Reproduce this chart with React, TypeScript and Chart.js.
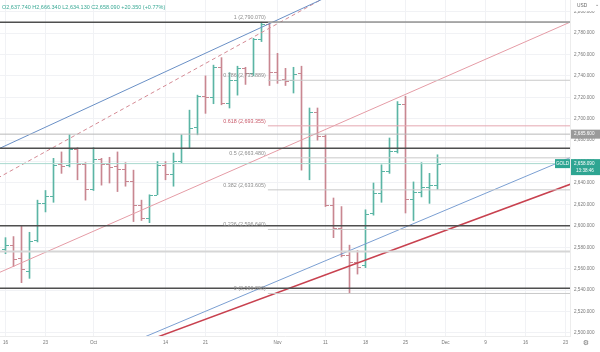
import React, { useEffect, useRef } from "react";
import { Chart, registerables } from "chart.js";

Chart.register(...registerables);

// Daily OHLC bars, trading days 16 Sep .. 29 Nov (index 0..54)
const opens = [
  2578, 2582, 2570, 2558, 2587, 2621, 2628, 2658, 2657, 2672,
  2658, 2634, 2662, 2658, 2656, 2653, 2642, 2619, 2607, 2629,
  2657, 2648, 2661, 2673, 2692, 2721, 2720, 2748, 2715, 2736,
  2747, 2743, 2774, 2788, 2744, 2737, 2736, 2743, 2659, 2706,
  2684, 2619, 2598, 2573, 2566, 2563, 2612, 2631, 2651, 2670,
  2714, 2625, 2632, 2636, 2637.74,
];
const highs = [
  2589, 2590, 2600, 2594, 2624, 2633, 2663, 2669, 2685, 2673,
  2659, 2673, 2663, 2664, 2669, 2659, 2652, 2624, 2629, 2660,
  2660, 2668, 2685, 2708, 2722, 2740, 2750, 2757, 2743, 2749,
  2748, 2775, 2790.07, 2790, 2761, 2747, 2748, 2749, 2710, 2710,
  2685, 2626, 2618, 2582, 2577, 2615, 2640, 2657, 2682, 2716,
  2721, 2641, 2659, 2649, 2666.34,
];
const lows = [
  2574, 2562, 2547, 2551, 2585, 2613, 2622, 2649, 2655, 2643,
  2624, 2633, 2638, 2640, 2632, 2637, 2604, 2605, 2603, 2629,
  2643, 2637, 2659, 2673, 2685, 2705, 2714, 2713, 2710, 2722,
  2732, 2740, 2772, 2731, 2733, 2731, 2724, 2652, 2643, 2680,
  2618, 2589, 2571, 2536.89, 2555, 2561, 2610, 2622, 2649, 2668,
  2612, 2605, 2627, 2621, 2634.13,
];
const closes = [
  2582, 2569, 2560, 2586, 2621, 2628, 2657, 2656, 2672, 2658,
  2634, 2662, 2658, 2655, 2653, 2642, 2619, 2607, 2629, 2657,
  2648, 2661, 2673, 2691, 2721, 2720, 2748, 2715, 2736, 2747,
  2743, 2774, 2788, 2744, 2736, 2735, 2742, 2659, 2706, 2684,
  2619, 2598, 2573, 2566, 2562, 2611, 2631, 2651, 2670, 2714,
  2625, 2632, 2636, 2638, 2658.09,
];

const xTickIndex = [0, 5, 11, 20, 25, 34, 40, 45, 50, 55, 60, 65, 70];
const xTickLabels = ["16", "23", "Oct", "14", "21", "Nov", "11", "18", "25", "Dec", "9", "16", "23"];
const yTickValues = [
  2500, 2520, 2540, 2560, 2580, 2600, 2620, 2640, 2660, 2680, 2700, 2720, 2740, 2760, 2780, 2800,
];

const X_MIN = -0.6875;
const X_MAX = 70.5625;
const Y_MIN = 2497.2;
const Y_MAX = 2810.8;

const darkLevels = [2790.07, 2672.5, 2600, 2541.7];
const grayLevel = 2685.6;
const paleLevel = 2576;
const lastPrice = 2658.09;

const fibRatios = ["1", "0.786", "0.618", "0.5", "0.382", "0.236", "0"];
const fibValues = [2790.07, 2735.889, 2693.355, 2663.48, 2633.605, 2596.64, 2536.89];
const fibStartIndex = 32.8;

const blueUpper = [[-1, 2671.4], [45, 2830.2]];
const redDashed = [[-1, 2644.5], [40, 2813.4]];
const pinkChannel = [[-1, 2555.7], [71, 2791.5]];
const blueLower = [[17, 2495.1], [71, 2665.0]];
const redTrend = [[18, 2493.5], [71, 2639.9]];

const headerText = "O2,637.740 H2,666.340 L2,634.130 C2,658.090 +20.350 (+0.77%)";
const symbolText = "GOLD";
const countdownText = "13:38:46";
const currencyText = "USD";

const UP = "#5bb5a5";
const DOWN = "#c98791";
const TEAL = "#2ea592";
const FONT = "'Liberation Sans', Arial, sans-serif";

const fmt = (v: number) =>
  v.toLocaleString("en-US", { minimumFractionDigits: 3, maximumFractionDigits: 3 });

function seg(pts: number[][], color: string, width: number, dash: number[] = []) {
  return {
    type: "line" as const,
    data: pts.map((p) => ({ x: p[0], y: p[1] })),
    borderColor: color,
    borderWidth: width,
    borderDash: dash,
    pointRadius: 0,
    fill: false,
    order: 1,
  };
}

const ohlcTicks = {
  id: "ohlcTicks",
  beforeDatasetsDraw(chart: any) {
    const { ctx, chartArea, scales } = chart;
    const x = scales.x;
    const y = scales.y;
    ctx.save();
    ctx.beginPath();
    ctx.rect(chartArea.left, chartArea.top, chartArea.width, chartArea.height);
    ctx.clip();
    ctx.lineWidth = 1;
    for (let i = 0; i < opens.length; i++) {
      const wl = Math.floor(x.getPixelForValue(i));
      ctx.strokeStyle = closes[i] >= opens[i] ? UP : DOWN;
      const yo = Math.round(y.getPixelForValue(opens[i])) + 0.5;
      const yc = Math.round(y.getPixelForValue(closes[i])) + 0.5;
      ctx.beginPath();
      ctx.moveTo(wl - 3, yo);
      ctx.lineTo(wl, yo);
      ctx.moveTo(wl + 1, yc);
      ctx.lineTo(wl + 4, yc);
      ctx.stroke();
    }
    ctx.restore();
  },
};

const overlay = {
  id: "overlay",
  afterDraw(chart: any) {
    const { ctx, chartArea, scales, width } = chart;
    const x = scales.x;
    const y = scales.y;
    ctx.save();

    // fib labels
    ctx.font = `5.4px ${FONT}`;
    ctx.textAlign = "right";
    ctx.textBaseline = "bottom";
    const fx = x.getPixelForValue(fibStartIndex) - 2;
    fibValues.forEach((v, i) => {
      ctx.fillStyle = fibRatios[i] === "0.618" ? "#c95a6a" : "#8d8d8d";
      ctx.fillText(`${fibRatios[i]} (${fmt(v)})`, fx, y.getPixelForValue(v) - 2);
    });

    // header
    ctx.textAlign = "left";
    ctx.textBaseline = "middle";
    ctx.font = `5.5px ${FONT}`;
    ctx.fillStyle = "#3aa995";
    ctx.fillText(headerText, 2, 7);

    const ax = chartArea.right + 1;
    const aw = width - ax;

    // currency box
    ctx.fillStyle = "#ffffff";
    ctx.fillRect(ax, 0, aw, 11);
    ctx.fillStyle = "#666";
    ctx.font = `4.8px ${FONT}`;
    ctx.fillText(currencyText, ax + 6, 6);
    ctx.fillText("\u2304", ax + 24, 5);

    // gray level label
    const gy = y.getPixelForValue(grayLevel);
    ctx.fillStyle = "#9a9a9a";
    ctx.fillRect(ax, gy - 4.5, aw, 9);
    ctx.fillStyle = "#ffffff";
    ctx.font = `4.6px ${FONT}`;
    ctx.fillText(fmt(grayLevel), ax + 3, gy);

    // last price label
    const ly = y.getPixelForValue(lastPrice);
    ctx.fillStyle = TEAL;
    ctx.fillRect(ax, ly - 4.5, aw, 16);
    ctx.fillRect(chartArea.right - 15, ly - 4.5, 15, 9);
    ctx.fillStyle = "#ffffff";
    ctx.fillText(fmt(lastPrice), ax + 3, ly);
    ctx.fillText(countdownText, ax + 5, ly + 7);
    ctx.textAlign = "center";
    ctx.fillText(symbolText, chartArea.right - 7.5, ly);

    // settings icon
    ctx.fillStyle = "#777";
    ctx.font = `7px 'DejaVu Sans', sans-serif`;
    ctx.fillText("\u2699", ax + 15, chartArea.bottom + 7);

    ctx.restore();
  },
};

export default function App() {
  const ref = useRef<HTMLCanvasElement | null>(null);

  useEffect(() => {
    document.body.style.margin = "0";
    const canvas = ref.current;
    if (!canvas) return;

    const fullWidth = (v: number) => [[X_MIN - 1, v], [X_MAX + 1, v]];
    const fibSeg = (v: number) => [[fibStartIndex, v], [X_MAX + 1, v]];

    const datasets: any[] = [
      {
        type: "bar",
        data: opens.map((_, i) => ({ x: i, y: [lows[i], highs[i]] })),
        backgroundColor: opens.map((o, i) => (closes[i] >= o ? UP : DOWN)),
        barThickness: 1,
        borderWidth: 0,
        grouped: false,
        order: 10,
      },
      seg(fullWidth(paleLevel), "#d6d6d6", 2),
      seg(fullWidth(grayLevel), "#b9b9b9", 1),
      seg(fullWidth(lastPrice), "#a9d9cf", 1),
      ...fibValues.map((v, i) => seg(fibSeg(v), fibRatios[i] === "0.618" ? "#e4a7b0" : "#c9c9c9", 1)),
      ...darkLevels.map((v) => seg(fullWidth(v), "#4f4f4f", 1.5)),
      seg(pinkChannel, "#e59ca6", 1),
      seg(blueUpper, "#6a90c6", 1),
      seg(redDashed, "#d48a94", 1, [4, 3]),
      seg(blueLower, "#7b9fd2", 1),
      seg(redTrend, "#c8414f", 1.5),
    ];

    const noPad = (s: any) => {
      s.paddingTop = 0;
      s.paddingBottom = 0;
      s.paddingLeft = 0;
      s.paddingRight = 0;
    };

    const chart = new Chart(canvas, {
      type: "bar",
      data: { datasets },
      options: {
        animation: false,
        responsive: false,
        maintainAspectRatio: false,
        events: [],
        layout: { padding: 0 },
        plugins: { legend: { display: false }, tooltip: { enabled: false } },
        scales: {
          x: {
            type: "linear",
            min: X_MIN,
            max: X_MAX,
            offset: false,
            afterBuildTicks: (s: any) => {
              s.ticks = xTickIndex.map((v) => ({ value: v }));
            },
            afterFit: (s: any) => {
              s.height = 16;
              noPad(s);
            },
            grid: { color: "#f1f2f5", offset: false, drawTicks: false },
            border: { display: true, color: "#ececec" },
            ticks: {
              autoSkip: false,
              maxRotation: 0,
              minRotation: 0,
              padding: 4,
              color: "#777",
              font: { size: 4.6, family: FONT },
              callback: (_v: any, i: number) => xTickLabels[i],
            },
          },
          y: {
            type: "linear",
            position: "right",
            min: Y_MIN,
            max: Y_MAX,
            afterBuildTicks: (s: any) => {
              s.ticks = yTickValues.map((v) => ({ value: v }));
            },
            afterFit: (s: any) => {
              s.width = 30;
              noPad(s);
            },
            grid: { color: "#f1f2f5", drawTicks: false },
            border: { display: true, color: "#ececec" },
            ticks: {
              padding: 4,
              color: "#777",
              font: { size: 4.6, family: FONT },
              callback: (v: any) => fmt(Number(v)),
            },
          },
        },
      },
      plugins: [ohlcTicks, overlay],
    });

    return () => chart.destroy();
  }, []);

  return (
    <div style={{ position: "fixed", left: 0, top: 0, width: 600, height: 352, background: "#fff" }}>
      <canvas ref={ref} width={600} height={352} style={{ display: "block" }} />
    </div>
  );
}
